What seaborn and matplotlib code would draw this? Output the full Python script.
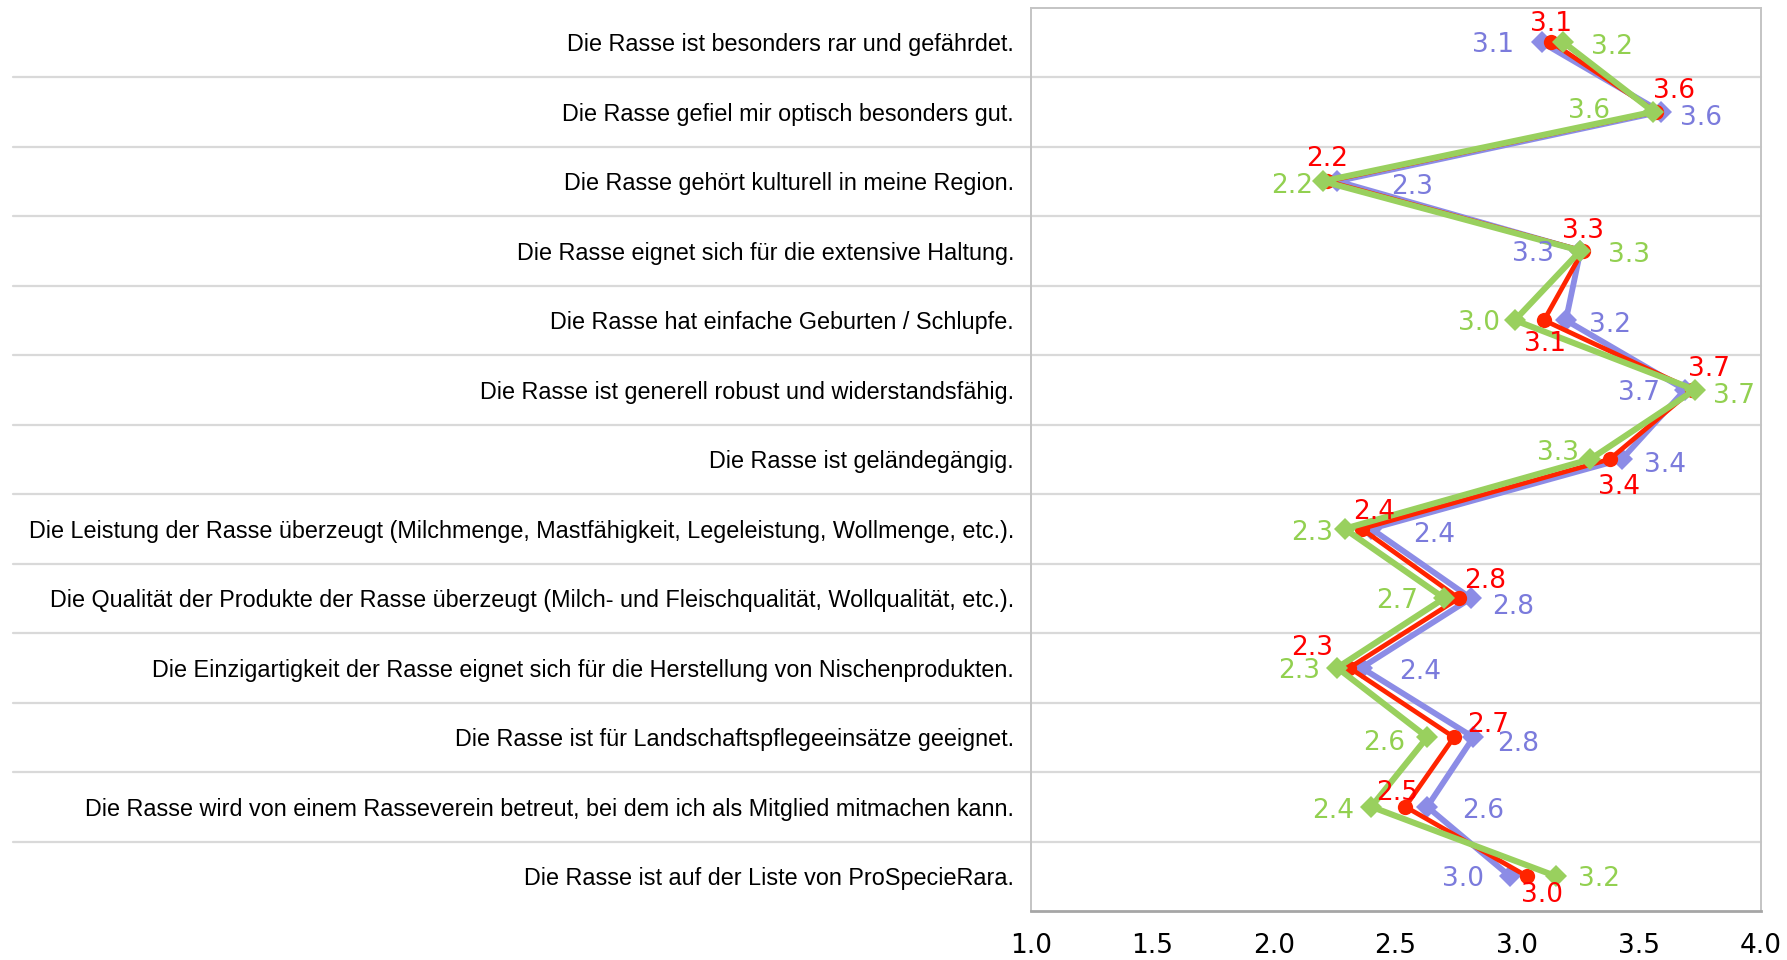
import matplotlib
matplotlib.use("Agg")
import matplotlib.pyplot as plt
import seaborn as sns
import pandas as pd
import numpy as np

categories = [
    "Die Rasse ist besonders rar und gefährdet.",
    "Die Rasse gefiel mir optisch besonders gut.",
    "Die Rasse gehört kulturell in meine Region.",
    "Die Rasse eignet sich für die extensive Haltung.",
    "Die Rasse hat einfache Geburten / Schlupfe.",
    "Die Rasse ist generell robust und widerstandsfähig.",
    "Die Rasse ist geländegängig.",
    "Die Leistung der Rasse überzeugt (Milchmenge, Mastfähigkeit, Legeleistung, Wollmenge, etc.).",
    "Die Qualität der Produkte der Rasse überzeugt (Milch- und Fleischqualität, Wollqualität, etc.).",
    "Die Einzigartigkeit der Rasse eignet sich für die Herstellung von Nischenprodukten.",
    "Die Rasse ist für Landschaftspflegeeinsätze geeignet.",
    "Die Rasse wird von einem Rasseverein betreut, bei dem ich als Mitglied mitmachen kann.",
    "Die Rasse ist auf der Liste von ProSpecieRara.",
]

red_values = [3.14, 3.57, 2.22, 3.27, 3.11, 3.72, 3.38, 2.36, 2.76, 2.31, 2.74, 2.54, 3.04]
blue_values = [3.10, 3.59, 2.26, 3.26, 3.20, 3.69, 3.43, 2.40, 2.81, 2.36, 2.82, 2.63, 2.97]
green_values = [3.19, 3.56, 2.20, 3.26, 2.99, 3.73, 3.30, 2.29, 2.70, 2.26, 2.63, 2.40, 3.16]

x_ticks = [1.0, 1.5, 2.0, 2.5, 3.0, 3.5, 4.0]

# label offsets in points (style only)
red_dx = [0, 13, 0, 0, 1, 12, 6.6, 9, 19, -27, 24.6, -5.7, 10.7]
red_dy = [15.6, 17.2, 18, 16.4, -14.8, 17.2, -18, 14, 14.8, 16.4, 10.7, 12.3, -11.5]
blue_dx = [-20, 14, 39, -19, 17, -18, 16, 30, 15, 27, 17, 25, -19]
blue_dy = [0, -2, -2, 0, -1, 0, -2, -2, -4, -1, -3, -1, 0]
green_dx = [20, -31, -7, 20, -11, 13, -8, -8, -19, -12, -16, -12, 16]
green_dy = [-1, 3, -1, -1, 0, -2, 7, -1, 0, 0, -2, -1, 0]

sns.set_style("white")
plt.rcParams['font.family'] = ['DejaVu Sans']

W, H = 1787, 960
fig = plt.figure(figsize=(W / 100, H / 100), dpi=100)
ax_left, ax_right, ax_top, ax_bottom = 1030.7, 1760.5, 7.5, 911
ax = fig.add_axes([ax_left / W, 1 - ax_bottom / H, (ax_right - ax_left) / W, (ax_bottom - ax_top) / H])

pos = np.arange(len(categories))
df = pd.DataFrame({"pos": pos, "red": red_values, "blue": blue_values, "green": green_values})

RED_LINE, RED_TXT = "#FF2400", "#FF0000"
BLUE_LINE, BLUE_TXT = "#8C8CE6", "#7B7BDC"
GREEN_LINE, GREEN_TXT = "#99D05E", "#92D050"

# gridlines between categories, extended into the label area
grid_left = (13 - ax_left) / (ax_right - ax_left)
for b in np.arange(0.5, len(categories) - 0.5, 1.0):
    ax.plot([grid_left, 1], [b, b], transform=ax.get_yaxis_transform(), color="#D9D9D9",
            lw=1.6, clip_on=False, zorder=0.5)

sns.lineplot(data=df, x="blue", y="pos", orient="y", sort=False, estimator=None, ax=ax,
             color=BLUE_LINE, linewidth=4.2, marker="D", markersize=11, markeredgewidth=0, zorder=3)
sns.lineplot(data=df, x="red", y="pos", orient="y", sort=False, estimator=None, ax=ax,
             color=RED_LINE, linewidth=3.4, marker="o", markersize=11, markeredgewidth=0, zorder=4)
sns.lineplot(data=df, x="green", y="pos", orient="y", sort=False, estimator=None, ax=ax,
             color=GREEN_LINE, linewidth=4.4, marker="D", markersize=11, markeredgewidth=0, zorder=5)


def label(values, dxs, dys, color, centered=False):
    for i, (v, dx, dy) in enumerate(zip(values, dxs, dys)):
        if centered:
            ha = "center"
        else:
            ha = "left" if dx > 0 else "right"
        ax.annotate(f"{v:.1f}", (v, i), xytext=(dx, dy), textcoords="offset points",
                    ha=ha, va="center_baseline", color=color, fontsize=19, zorder=6)


label(blue_values, blue_dx, blue_dy, BLUE_TXT)
label(green_values, green_dx, green_dy, GREEN_TXT)
label(red_values, red_dx, red_dy, RED_TXT, centered=True)

ax.set_xlim(1.0, 4.0)
ax.set_ylim(len(categories) - 0.5, -0.5)
ax.set_xticks(x_ticks)
ax.set_xticklabels([f"{t:.1f}" for t in x_ticks], fontsize=19)
ax.set_yticks(pos)
ax.set_yticklabels(categories, fontsize=16.8, family=["Liberation Sans", "DejaVu Sans"])
ax.set_xlabel("")
ax.set_ylabel("")
ax.tick_params(axis="x", direction="out", length=5, width=1.4, color="#A6A6A6", pad=11, labelcolor="black")
ax.tick_params(axis="y", length=0, pad=12, labelcolor="black")
for side in ["top", "right", "left"]:
    ax.spines[side].set_color("#C4C4C4")
    ax.spines[side].set_linewidth(1.4)
ax.spines["bottom"].set_color("#A6A6A6")
ax.spines["bottom"].set_linewidth(2)
ax.grid(False)

fig.savefig("out.png", dpi=100, facecolor="white")
